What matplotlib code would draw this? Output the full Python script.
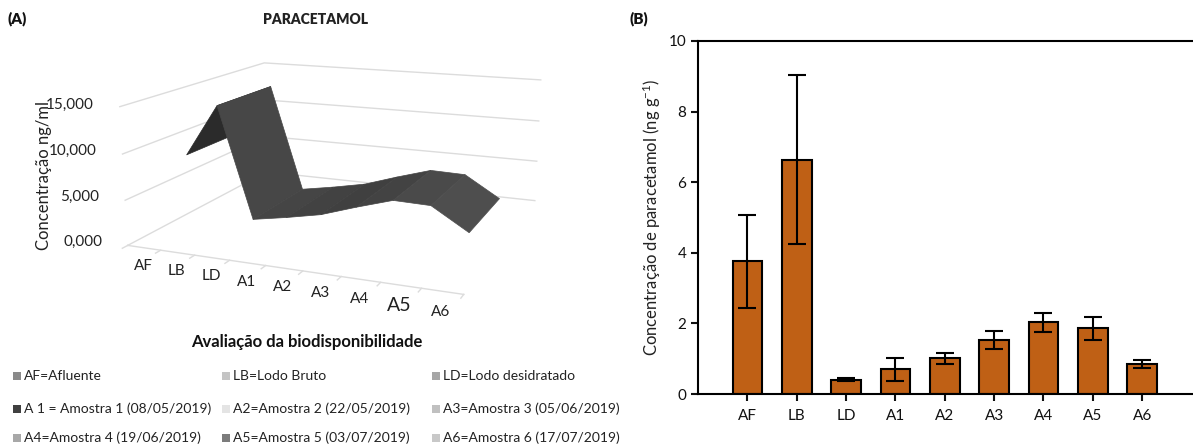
import matplotlib
matplotlib.use("Agg")
import matplotlib.pyplot as plt
import numpy as np
from matplotlib.patches import Rectangle
from mpl_toolkits.mplot3d.art3d import Poly3DCollection

plt.rcParams['font.family'] = ['Lato', 'DejaVu Sans']
plt.rcParams['mathtext.default'] = 'regular'

# panel A
cats = ['AF', 'LB', 'LD', 'A1', 'A2', 'A3', 'A4', 'A5', 'A6']
conc_ng_ml = [8000, 13900, 1400, 2100, 2900, 4200, 5400, 5300, 2900]
seg_colors = ['#2b2b2b', '#474747', '#454545', '#424242', '#404040', '#434343', '#4a4a4a', '#4e4e4e']
z_ticks = [0, 5000, 10000, 15000]
z_labels = ['0,000', '5,000', '10,000', '15,000']

# panel B
conc_ng_g = [3.76, 6.64, 0.41, 0.70, 1.01, 1.52, 2.03, 1.86, 0.84]
err_low = [2.44, 4.24, 0.37, 0.37, 0.85, 1.27, 1.75, 1.54, 0.73]
err_high = [5.06, 9.03, 0.45, 1.03, 1.17, 1.78, 2.30, 2.19, 0.97]
y_ticks = [0, 2, 4, 6, 8, 10]

legend_rows = [
    [('AF=Afluente', '#8a8a8a'), ('LB=Lodo Bruto', '#c4c4c4'), ('LD=Lodo desidratado', '#a6a6a6')],
    [('A 1 = Amostra 1 (08/05/2019)', '#404040'), ('A2=Amostra 2 (22/05/2019)', '#e4e4e4'), ('A3=Amostra 3 (05/06/2019)', '#c0c0c0')],
    [('A4=Amostra 4 (19/06/2019)', '#a8a8a8'), ('A5=Amostra 5 (03/07/2019)', '#7c7c7c'), ('A6=Amostra 6 (17/07/2019)', '#c8c8c8')],
]

W, H = 1193, 448
fig = plt.figure(figsize=(W / 100, H / 100), dpi=100)

# --- A: ribbon surface
ax3 = fig.add_axes([38 / W, -18 / H, 600 / W, 600 / H], projection='3d')
ax3.set_proj_type('persp', focal_length=0.3)
ax3.view_init(elev=14, azim=-68)
ax3.set_box_aspect((380, 340, 155), zoom=0.74)
ax3.set_axis_off()
ax3.patch.set_alpha(0)
ax3.set_xlim(0, len(cats))
ax3.set_ylim(0, 1)
ax3.set_zlim(0, 15000)

depth_lo, depth_hi = 0.28, 0.68
grid_col = '#dcdcdc'
for z in z_ticks:
    ax3.plot([0, 0, len(cats)], [0, 1, 1], [z, z, z], color=grid_col, lw=1)
ax3.plot([0, len(cats)], [0, 0], [0, 0], color=grid_col, lw=1)
for i in range(len(cats) + 1):
    ax3.plot([i, i], [0, -0.03], [0, 0], color=grid_col, lw=1)

polys = []
for i in range(len(cats) - 1):
    x0, x1 = i + 0.5, i + 1.5
    z0, z1 = conc_ng_ml[i], conc_ng_ml[i + 1]
    polys.append([(x0, depth_lo, z0), (x1, depth_lo, z1), (x1, depth_hi, z1), (x0, depth_hi, z0)])
ax3.add_collection3d(Poly3DCollection(polys, facecolors=seg_colors, edgecolors=seg_colors, linewidths=0.5))

for i, c in enumerate(cats):
    ax3.text(i + 0.5, -0.01, -1900, c, ha='center', va='center', fontsize=14 if c == 'A5' else 11, color='#222222')
for z, lab in zip(z_ticks, z_labels):
    ax3.text(-0.8, 0, z, lab, ha='right', va='center', fontsize=11, color='#222222')

fig.text(44 / W, 1 - 175 / H, 'Concentração ng/ml', rotation=90, ha='center', va='center', fontsize=12, color='#222222')
fig.text(316 / W, 1 - 19 / H, 'PARACETAMOL', ha='center', va='center', fontsize=10, fontweight='heavy', color='#222222')
fig.text(7 / W, 1 - 19 / H, '(A)', ha='left', va='center', fontsize=11, fontweight='heavy', color='#111111')
fig.text(629 / W, 1 - 19 / H, '(B)', ha='left', va='center', fontsize=11, fontweight='heavy', color='#111111')
fig.text(307 / W, 1 - 342 / H, 'Avaliação da biodisponibilidade', ha='center', va='center', fontsize=12, fontweight='bold', color='#111111')

# legend rows drawn by hand, it is not a real matplotlib legend in the original
col_x = [13, 222, 432]
row_y = [376, 409, 438]
for ry, row in zip(row_y, legend_rows):
    for cx, (txt, col) in zip(col_x, row):
        fig.add_artist(Rectangle((cx / W, 1 - (ry + 4) / H), 8 / W, 8 / H, transform=fig.transFigure, color=col, lw=0))
        fig.text((cx + 11) / W, 1 - ry / H, txt, ha='left', va='center', fontsize=10, color='#222222')

# --- B: bars with error bars
ax = fig.add_axes([698 / W, 1 - 394 / H, (W - 698) / W, (394 - 41) / H])
x = np.arange(len(cats))
vals = np.array(conc_ng_g)
ax.bar(x, vals, width=0.64, color='#b4b4b4', lw=0)
ax.bar(x, vals, width=0.6, color='#bf6015', edgecolor='black', lw=1.5)
ax.errorbar(x, vals, yerr=[vals - np.array(err_low), np.array(err_high) - vals], fmt='none', ecolor='black',
            elinewidth=1.5, capsize=6.5, capthick=1.5)
ax.set_xlim(-1.0, 9.03)
ax.set_ylim(0, 10)
ax.set_yticks(y_ticks)
ax.set_xticks(x)
ax.set_xticklabels(cats)
ax.tick_params(axis='both', width=1.5, length=5, labelsize=11, colors='#111111')
ax.tick_params(axis='x', pad=6)
for s in ax.spines.values():
    s.set_linewidth(1.5)
ax.spines['right'].set_visible(False)
ax.set_ylabel('Concentração de paracetamol (ng g$^{-1}$)', fontsize=12, color='#222222', labelpad=4)

fig.savefig('out.png', dpi=100)
